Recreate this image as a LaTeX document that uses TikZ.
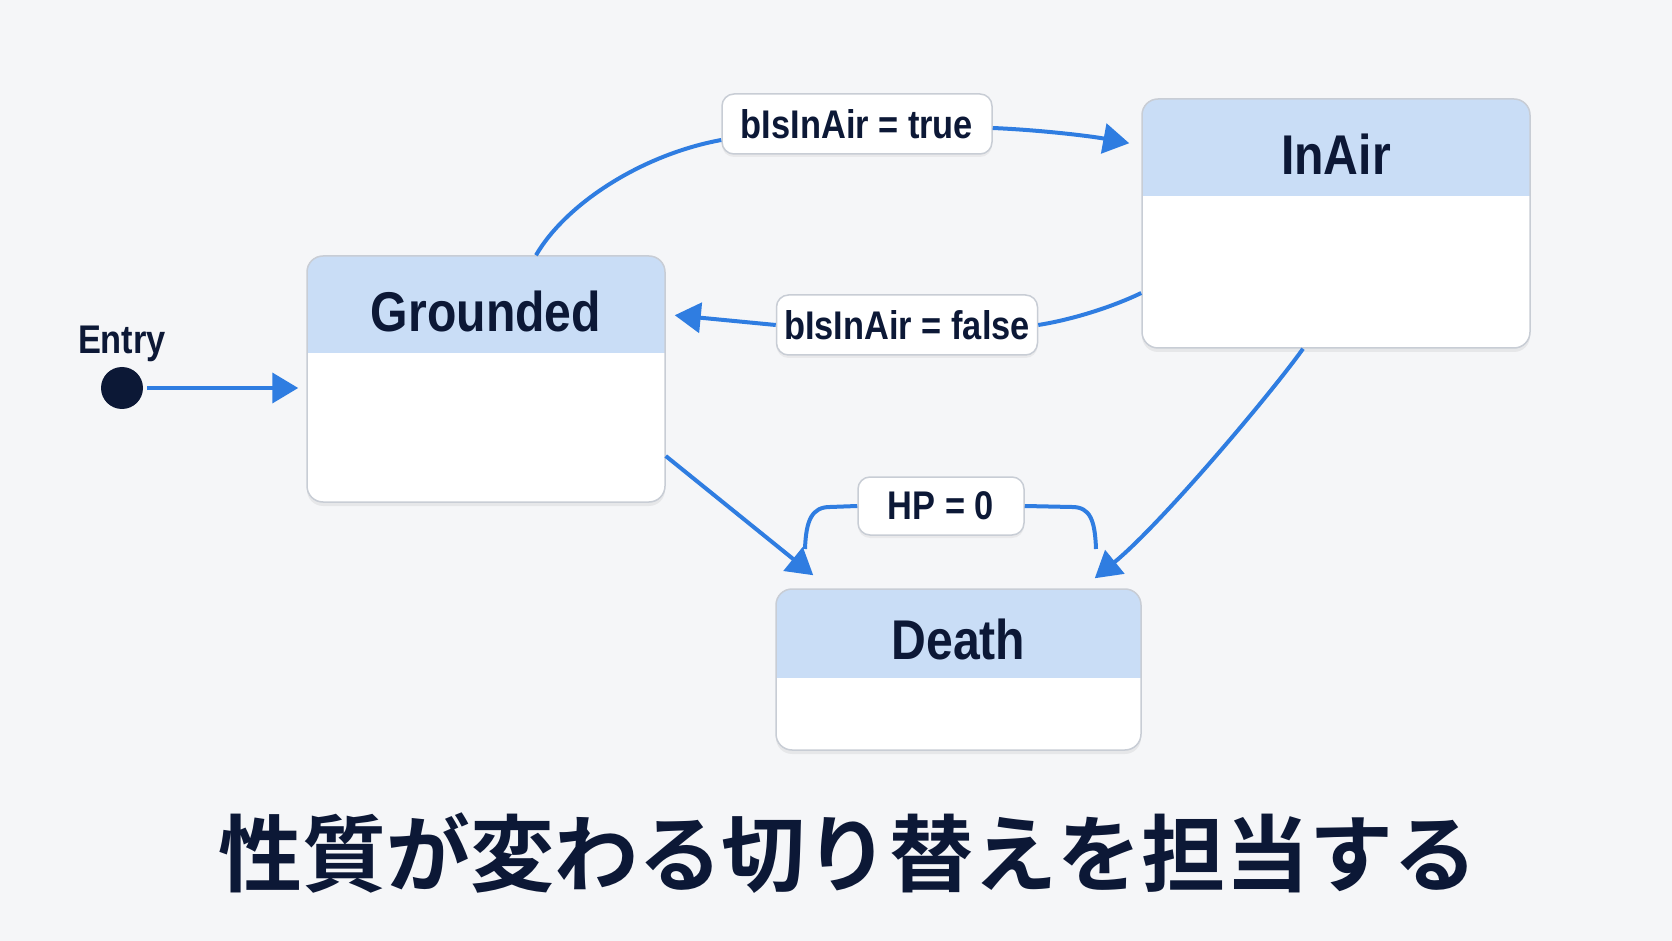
\documentclass[tikz,border=0pt]{standalone}
\usepackage{fontspec}
\setmainfont{Liberation Sans}[FakeStretch=0.86]
\newfontfamily\cjkfont{Noto Sans CJK JP Bold}
\definecolor{navytext}{RGB}{12, 24, 54}
\definecolor{arrowblue}{RGB}{47, 125, 225}
\definecolor{headblue}{RGB}{201, 221, 246}
\definecolor{boxgray}{RGB}{200, 205, 213}
\definecolor{pagebg}{RGB}{245, 246, 248}
\usetikzlibrary{arrows.meta, positioning, shadows}

\begin{document}
\begin{tikzpicture}[
      x=0.5pt, y=-0.5pt,
      statebox/.style={rectangle, draw=boxgray, fill=white, line width=0.75pt, rounded corners=8pt, drop shadow={opacity=0.12, shadow xshift=0pt, shadow yshift=-2pt}, path picture={\fill[headblue, sharp corners] (path picture bounding box.north west) rectangle ([yshift=-#1]path picture bounding box.north east);}},
      statebox/.default=48.5pt,
      titletext/.style={font=\fontsize{28}{30}\selectfont\bfseries, text=navytext},
      lblbox/.style={rectangle, draw=boxgray, fill=white, line width=0.75pt, rounded corners=6pt, minimum height=30pt, inner sep=0pt, drop shadow={opacity=0.10, shadow xshift=0pt, shadow yshift=-1.5pt}, font=\fontsize{20}{22}\selectfont\bfseries, text=navytext},
      trans/.style={draw, -{Triangle[length=13pt, width=15pt]}, line width=2pt, arrowblue},
      plain/.style={draw, line width=2pt, arrowblue}
    ]
      \fill[pagebg] (0,0) rectangle (1672,941);

      \node (s1) [statebox, minimum width=179pt, minimum height=123pt] at (486,379) {};
      \node (s1t) [titletext] at ([yshift=-28pt]s1.north) {Grounded};
      \node (s2) [statebox, minimum width=194pt, minimum height=124.5pt] at (1336,223.5) {};
      \node (s2t) [titletext] at ([yshift=-28pt]s2.north) {InAir};
      \node (s3) [statebox=44.5pt, minimum width=182.5pt, minimum height=80.5pt] at (958.5,669.5) {};
      \node (s3t) [titletext] at ([yshift=-25.5pt]s3.north) {Death};

      \node (e0) [circle, fill=navytext, minimum size=21pt, inner sep=0pt] at (122,388) {};
      \node (e0t) [above=2pt of e0, inner sep=0pt, font=\fontsize{20}{22}\selectfont\bfseries, text=navytext] {Entry};

      \node (t1) [lblbox, minimum width=135pt] at (857,124) {bIsInAir = true};
      \node (t2) [lblbox, minimum width=130.5pt] at (907,325) {bIsInAir = false};
      \node (t3) [lblbox, minimum width=83pt, minimum height=29pt] at (941,506) {HP = 0};

      \coordinate (h1) at (805,549);
      \coordinate (h2) at (1096,549);

      \draw[trans, shorten <=2pt, shorten >=4pt] (e0) -- (s1.west |- e0);
      \draw[plain] ([xshift=25pt]s1.north) .. controls (565,205) and (640,155) .. ([yshift=-8pt]t1.west);
      \draw[trans] ([yshift=-2pt]t1.east) .. controls (1040,130) and (1090,136) .. ([xshift=-6pt,yshift=-22.5pt]s2.north west);
      \draw[plain] ([yshift=-34.75pt]s2.west) .. controls (1110,308) and (1070,320) .. (t2.east);
      \draw[trans] (t2.west) -- ([xshift=4.5pt,yshift=-30pt]s1.north east);
      \draw[trans] ([yshift=-38.5pt]s1.east) -- ([xshift=19pt,yshift=6.5pt]s3.north west);
      \draw[trans] ([xshift=-16.5pt]s2.south) .. controls (1270,395) and (1160,525) .. ([xshift=-23.5pt,yshift=5pt]s3.north east);
      \draw[plain] (t3.west) -- (830,507) .. controls (812,507) and (806,520) .. (h1);
      \draw[plain] (t3.east) -- (1072,507) .. controls (1090,507) and (1095,520) .. (h2);

      \node (cap) [font=\cjkfont\fontsize{42}{44}\selectfont, text=navytext] at (848,853) {性質が変わる切り替えを担当する};
    \end{tikzpicture}
\end{document}
